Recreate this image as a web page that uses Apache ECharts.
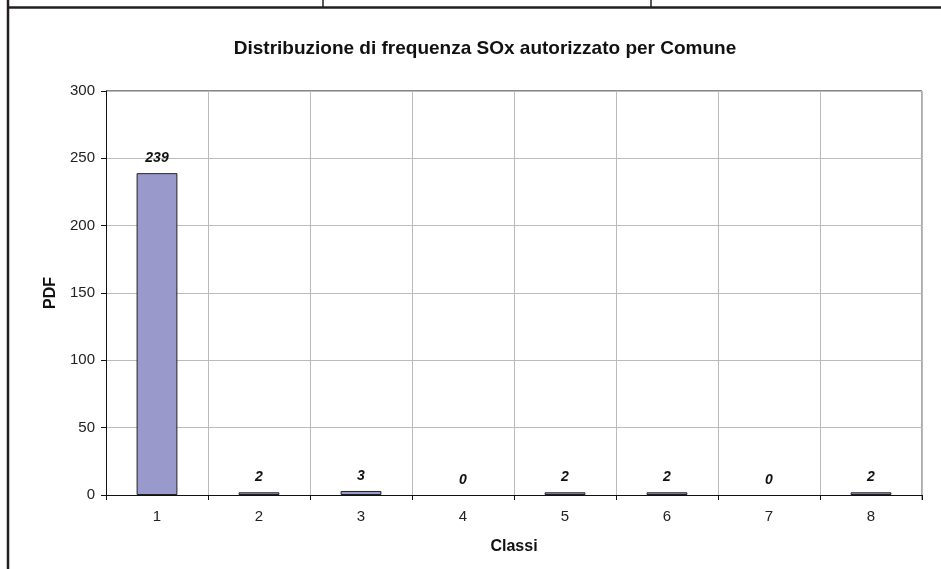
<!DOCTYPE html>
<html>
<head>
<meta charset="utf-8">
<script src="https://cdn.jsdelivr.net/npm/echarts@6/dist/echarts.min.js"></script>
<style>
  html, body { margin: 0; padding: 0; background: #fff; }
  #chart { width: 941px; height: 569px; }
</style>
</head>
<body>
<div id="chart"></div>
<script>
const classi = ['1', '2', '3', '4', '5', '6', '7', '8']
const pdf = [239, 2, 3, 0, 2, 2, 0, 2]
const yTicks = [0, 50, 100, 150, 200, 250, 300]

const myChart = echarts.init(document.getElementById('chart'))
const font = 'Liberation Sans, Arial, sans-serif'

myChart.setOption({
  animation: false,
  title: {
    text: 'Distribuzione di frequenza SOx autorizzato per Comune',
    left: 480,
    top: 34,
    textAlign: 'center',
    textStyle: { fontFamily: font, fontSize: 19, fontWeight: 'bold', color: '#111' },
  },
  grid: { left: 106, right: 19, top: 91, bottom: 74 },
  xAxis: {
    type: 'category',
    data: classi,
    name: 'Classi',
    nameLocation: 'middle',
    nameGap: 44,
    nameTextStyle: { fontFamily: font, fontSize: 16, fontWeight: 'bold', color: '#111' },
    axisLine: { lineStyle: { color: '#111', width: 1 } },
    axisTick: { show: true, length: 5, lineStyle: { color: '#111' } },
    axisLabel: { fontFamily: font, fontSize: 15, color: '#222', margin: 14 },
    splitLine: { show: true, lineStyle: { color: '#bbb', width: 1 } },
  },
  yAxis: {
    type: 'value',
    min: yTicks[0],
    max: yTicks[yTicks.length - 1],
    interval: 50,
    name: 'PDF',
    nameLocation: 'middle',
    nameGap: 47,
    nameRotate: 90,
    nameTextStyle: { fontFamily: font, fontSize: 16, fontWeight: 'bold', color: '#111' },
    axisLine: { show: true, lineStyle: { color: '#111', width: 1 } },
    axisTick: { show: true, length: 5, inside: false, lineStyle: { color: '#111' } },
    axisLabel: { fontFamily: font, fontSize: 15, color: '#222', margin: 11 },
    splitLine: { show: true, lineStyle: { color: '#bbb', width: 1 } },
  },
  series: [{
    type: 'bar',
    data: pdf.map(v => ({
      value: v,
      // no visible sliver for empty classes
      itemStyle: v === 0 ? { borderWidth: 0 } : undefined,
    })),
    barWidth: '40%',
    itemStyle: { color: '#9999cc', borderColor: '#222', borderWidth: 1 },
    label: {
      show: true,
      position: 'top',
      distance: 8,
      fontFamily: font,
      fontSize: 14,
      fontWeight: 'bold',
      fontStyle: 'italic',
      color: '#111',
    },
  }],
  graphic: [
    // right / top border of plot area
    { type: 'line', shape: { x1: 922, y1: 91, x2: 922, y2: 500 }, style: { stroke: '#555', lineWidth: 1 } },
    { type: 'line', shape: { x1: 106, y1: 91, x2: 922, y2: 91 }, style: { stroke: '#111', lineWidth: 1 } },
    // table borders
    { type: 'line', shape: { x1: 8, y1: 7.5, x2: 941, y2: 7.5 }, style: { stroke: '#231f20', lineWidth: 2.5 } },
    { type: 'line', shape: { x1: 8, y1: 0, x2: 8, y2: 569 }, style: { stroke: '#231f20', lineWidth: 2.5 } },
    { type: 'line', shape: { x1: 323, y1: 0, x2: 323, y2: 7 }, style: { stroke: '#231f20', lineWidth: 1.5 } },
    { type: 'line', shape: { x1: 651, y1: 0, x2: 651, y2: 7 }, style: { stroke: '#231f20', lineWidth: 1.5 } },
  ],
})
</script>
</body>
</html>
